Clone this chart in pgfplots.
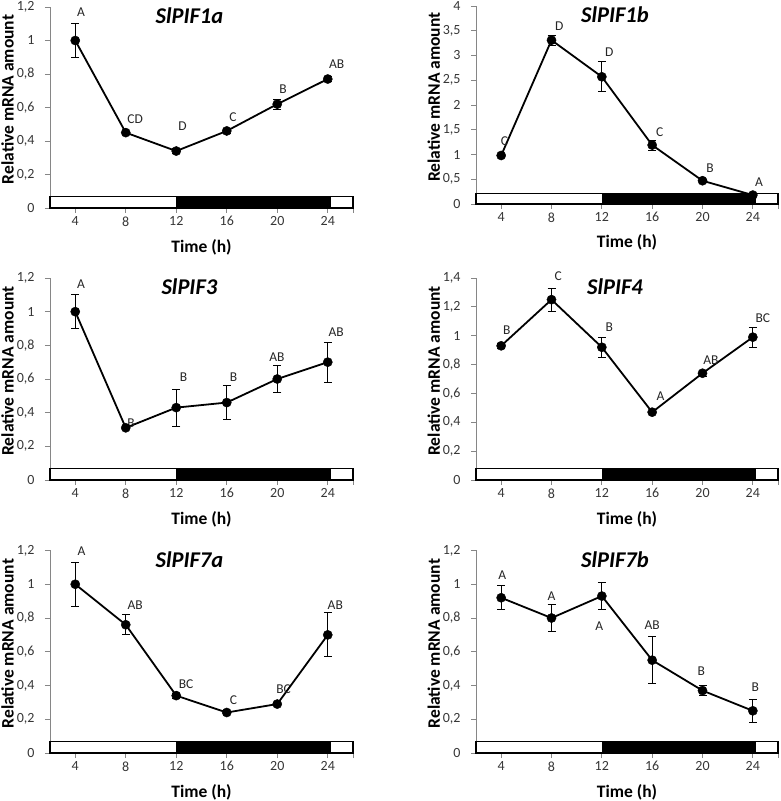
\documentclass[border=0pt]{standalone}
\usepackage{fontspec}
\setmainfont{Carlito}
\usepackage{pgfplots}
\pgfplotsset{compat=1.18}
\definecolor{axgray}{HTML}{868686}
\definecolor{txt}{HTML}{363636}
\definecolor{lbl}{HTML}{262626}

\tikzset{lt/.style={font=\fontsize{13.5}{15}\selectfont, text=lbl, inner sep=0pt}}

\pgfplotsset{
  pif/.style={
    scale only axis, anchor=south west,
    xmin=2, xmax=26, ymin=0,
    axis x line=bottom, axis y line=left,
    axis line style={axgray, line width=0.8pt, -},
    xtick={4,8,12,16,20,24}, extra x ticks={26}, extra x tick labels={},
    extra x tick style={tick style={axgray, line width=0.8pt}},
    tick style={axgray, line width=0.8pt},
    tick align=outside, major tick length=5pt,
    tick label style={font=\fontsize{14}{16}\selectfont, text=txt},
    yticklabel style={xshift=-7pt},
    /pgf/number format/.cd, use comma, fixed, precision=1, assume math mode=true,
    /pgfplots/.cd,
    clip=false,
  },
  dat/.style={
    black, line width=1.8pt, mark=*, mark size=4.6pt,
    mark options={fill=black, draw=black, line width=0.4pt, solid},
    error bars/.cd, y dir=both, y explicit,
    error bar style={line width=0.9pt, black, solid},
    error mark options={rotate=90, mark size=4pt, line width=0.9pt, black},
  },
}

\newcommand{\decor}[1]{%
  \draw[black, line width=1.1pt, fill=white] (rel axis cs:0,0) rectangle (rel axis cs:1,0.055);
  \fill[black] (rel axis cs:0.4167,0) rectangle (rel axis cs:0.927,0.055);
  \draw[black, line width=1.1pt] (rel axis cs:0,0) rectangle (rel axis cs:1,0.055);
  \node[font=\bfseries\itshape\fontsize{22.5}{26}\selectfont, inner sep=0pt] at (axis description cs:0.46,0.955) {#1};
  \node[rotate=90, font=\bfseries\fontsize{17.5}{20}\selectfont, inner sep=0pt] at (axis description cs:-0.14,0.54) {Relative mRNA amount};
  \node[font=\bfseries\fontsize{17.5}{20}\selectfont, inner sep=0pt] at (axis description cs:0.5,-0.194) {Time (h)};
}

\begin{document}
\begin{tikzpicture}
\useasboundingbox (0,0) rectangle (780pt,801pt);

% Panel 1: SlPIF1a
\begin{axis}[pif, at={(50pt,593pt)}, width=303pt, height=201pt, ymax=1.2,
  ytick={0,0.2,0.4,0.6,0.8,1,1.2}]
\decor{SlPIF1a}
\addplot[dat] table[x=t, y=v, y error=e] {
t v e
4 1.00 0.10
8 0.45 0.005
12 0.34 0.015
16 0.46 0.015
20 0.62 0.03
24 0.77 0.015
};
\node[lt] at (axis cs:4.45,1.17) {A};
\node[lt] at (axis cs:8.74,0.53) {CD};
\node[lt] at (axis cs:12.5,0.49) {D};
\node[lt] at (axis cs:16.5,0.54) {C};
\node[lt] at (axis cs:20.45,0.71) {B};
\node[lt] at (axis cs:24.7,0.86) {AB};
\end{axis}

% Panel 2: SlPIF1b
\begin{axis}[pif, at={(476pt,597pt)}, width=302pt, height=198pt, ymax=4,
  ytick={0,0.5,1,1.5,2,2.5,3,3.5,4}]
\decor{SlPIF1b}
\addplot[dat] table[x=t, y=v, y error=e] {
t v e
4 0.98 0.02
8 3.31 0.10
12 2.57 0.30
16 1.19 0.10
20 0.47 0.03
24 0.18 0.02
};
\node[lt] at (axis cs:4.27,1.26) {C};
\node[lt] at (axis cs:8.61,3.60) {D};
\node[lt] at (axis cs:12.6,3.06) {D};
\node[lt] at (axis cs:16.6,1.45) {C};
\node[lt] at (axis cs:20.6,0.73) {B};
\node[lt] at (axis cs:24.5,0.44) {A};
\end{axis}

% Panel 3: SlPIF3
\begin{axis}[pif, at={(50pt,321pt)}, width=303pt, height=202pt, ymax=1.2,
  ytick={0,0.2,0.4,0.6,0.8,1,1.2}]
\decor{SlPIF3}
\addplot[dat] table[x=t, y=v, y error=e] {
t v e
4 1.00 0.10
8 0.31 0.005
12 0.43 0.11
16 0.46 0.10
20 0.60 0.08
24 0.70 0.12
};
\node[lt] at (axis cs:4.45,1.166) {A};
\node[lt] at (axis cs:8.42,0.335) {B};
\node[lt] at (axis cs:12.57,0.61) {B};
\node[lt] at (axis cs:16.54,0.61) {B};
\node[lt] at (axis cs:19.98,0.73) {AB};
\node[lt] at (axis cs:24.66,0.88) {AB};
\end{axis}

% Panel 4: SlPIF4
\begin{axis}[pif, at={(476pt,321pt)}, width=302pt, height=202pt, ymax=1.4,
  ytick={0,0.2,0.4,0.6,0.8,1,1.2,1.4}]
\decor{SlPIF4}
\addplot[dat] table[x=t, y=v, y error=e] {
t v e
4 0.93 0.015
8 1.25 0.08
12 0.92 0.07
16 0.47 0.005
20 0.74 0.02
24 0.99 0.07
};
\node[lt] at (axis cs:4.45,1.04) {B};
\node[lt] at (axis cs:8.53,1.416) {C};
\node[lt] at (axis cs:12.6,1.058) {B};
\node[lt] at (axis cs:16.67,0.58) {A};
\node[lt] at (axis cs:20.67,0.833) {AB};
\node[lt] at (axis cs:24.8,1.12) {BC};
\end{axis}

% Panel 5: SlPIF7a
\begin{axis}[pif, at={(50pt,48pt)}, width=303pt, height=202.5pt, ymax=1.2,
  ytick={0,0.2,0.4,0.6,0.8,1,1.2}]
\decor{SlPIF7a}
\addplot[dat] table[x=t, y=v, y error=e] {
t v e
4 1.00 0.13
8 0.76 0.06
12 0.34 0.015
16 0.24 0.005
20 0.29 0.01
24 0.70 0.13
};
\node[lt] at (axis cs:4.5,1.194) {A};
\node[lt] at (axis cs:8.74,0.874) {AB};
\node[lt] at (axis cs:12.78,0.41) {BC};
\node[lt] at (axis cs:16.54,0.312) {C};
\node[lt] at (axis cs:20.5,0.38) {BC};
\node[lt] at (axis cs:24.6,0.878) {AB};
\end{axis}

% Panel 6: SlPIF7b
\begin{axis}[pif, at={(476pt,48pt)}, width=302pt, height=202.5pt, ymax=1.2,
  ytick={0,0.2,0.4,0.6,0.8,1,1.2}]
\decor{SlPIF7b}
\addplot[dat] table[x=t, y=v, y error=e] {
t v e
4 0.92 0.07
8 0.80 0.08
12 0.93 0.08
16 0.55 0.14
20 0.37 0.03
24 0.25 0.07
};
\node[lt] at (axis cs:4.08,1.052) {A};
\node[lt] at (axis cs:8.0,0.93) {A};
\node[lt] at (axis cs:11.8,0.75) {A};
\node[lt] at (axis cs:16.0,0.756) {AB};
\node[lt] at (axis cs:19.9,0.484) {B};
\node[lt] at (axis cs:24.2,0.389) {B};
\end{axis}
\end{tikzpicture}
\end{document}
